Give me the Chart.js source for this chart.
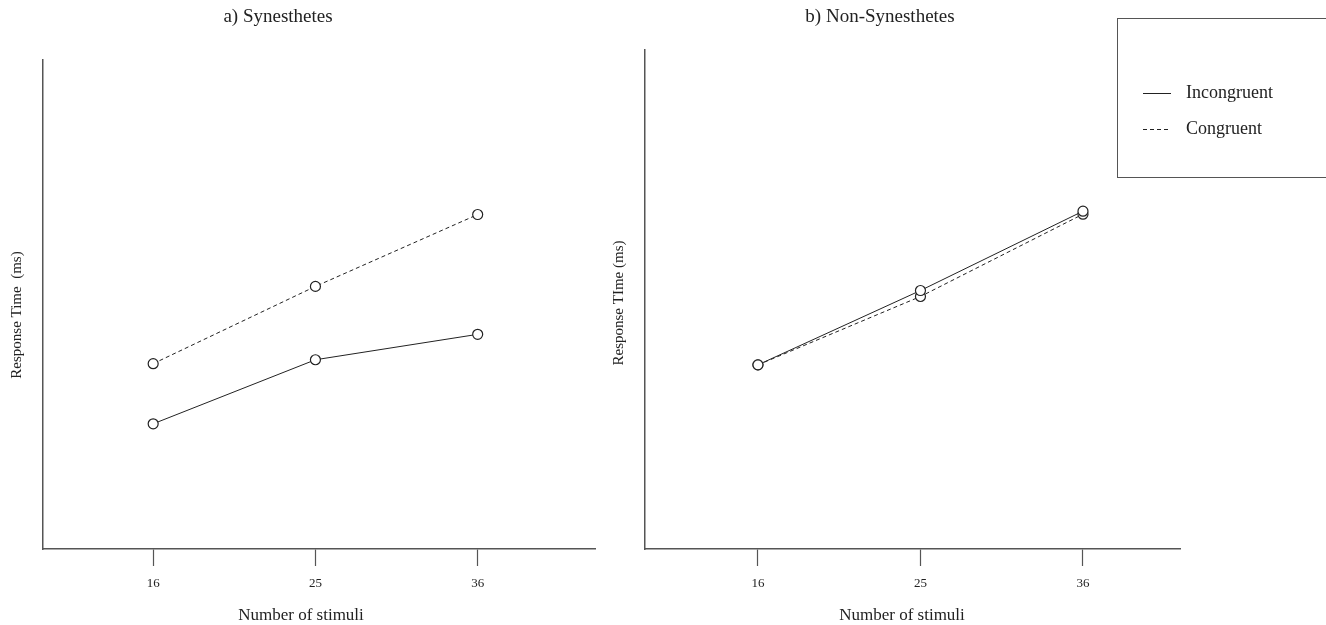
<!DOCTYPE html>
<html>
<head>
<meta charset="utf-8">
<script src="https://cdn.jsdelivr.net/npm/chart.js@4.4.1/dist/chart.umd.min.js"></script>
<style>
  body { margin: 0; background: #fff; }
  .panel { position: absolute; top: 0; height: 625px; }
  #left { left: 0; width: 602px; }
  #right { left: 602px; width: 724px; }
</style>
</head>
<body>
<div class="panel" id="left"><canvas id="synChart"></canvas></div>
<div class="panel" id="right"><canvas id="nonChart"></canvas></div>
<script>
// data (y in relative units, 0 = x axis, 100 = top of y axis)
const stimuli = ['16', '25', '36'];
const tickPos = [1, 2, 3];
const synIncongruent = [25.6, 38.7, 43.9];
const synCongruent = [37.9, 53.7, 68.4];
const nonIncongruent = [36.9, 51.8, 67.7];
const nonCongruent = [36.9, 50.6, 67.1];
const seriesNames = ['Incongruent', 'Congruent'];

const serif = 'Liberation Serif';
const ink = '#222';
const axisInk = '#555';

// panel title and axis titles drawn at fixed spots
const panelText = {
  id: 'panelText',
  afterDraw(chart, args, opts) {
    const ctx = chart.ctx;
    ctx.save();
    ctx.fillStyle = ink;
    ctx.textAlign = 'center';
    ctx.textBaseline = 'middle';
    ctx.font = '19px "' + serif + '"';
    ctx.fillText(opts.title, opts.titleX, 17);
    ctx.font = '17px "' + serif + '"';
    ctx.fillText('Number of stimuli', opts.xTitleX, 616);
    ctx.translate(17, opts.yTitleY);
    ctx.rotate(-Math.PI / 2);
    ctx.font = '15px "' + serif + '"';
    ctx.fillText(opts.yTitle, 0, 0);
    ctx.restore();
  }
};

// boxed legend in the top right corner
const boxLegend = {
  id: 'boxLegend',
  afterDraw(chart, args, opts) {
    if (!opts.show) return;
    const ctx = chart.ctx;
    ctx.save();
    ctx.strokeStyle = axisInk;
    ctx.lineWidth = 1;
    ctx.strokeRect(opts.x + 0.5, opts.y + 0.5, opts.w, opts.h);
    chart.data.datasets.forEach((ds, i) => {
      const yy = opts.y + 75 + i * 36;
      ctx.strokeStyle = ink;
      ctx.setLineDash(ds.borderDash || []);
      ctx.beginPath();
      ctx.moveTo(opts.x + 26, yy + 0.5);
      ctx.lineTo(opts.x + 54, yy + 0.5);
      ctx.stroke();
      ctx.setLineDash([]);
      ctx.fillStyle = ink;
      ctx.font = '18px "' + serif + '"';
      ctx.textBaseline = 'middle';
      ctx.fillText(ds.label, opts.x + 69, yy);
    });
    ctx.restore();
  }
};

function line(label, values, dash) {
  return {
    label: label,
    data: values.map((v, i) => ({ x: tickPos[i], y: v })),
    borderColor: ink,
    borderWidth: 1,
    borderDash: dash,
    pointRadius: 5,
    pointBackgroundColor: '#fff',
    pointBorderColor: ink,
    pointBorderWidth: 1.2,
    tension: 0
  };
}

function makeChart(id, inc, con, cfg) {
  new Chart(document.getElementById(id), {
    type: 'line',
    data: {
      datasets: [line(seriesNames[0], inc, []), line(seriesNames[1], con, [4, 3])]
    },
    plugins: [panelText, boxLegend],
    options: {
      responsive: true,
      maintainAspectRatio: false,
      animation: false,
      layout: { padding: { top: cfg.top, right: cfg.right, left: 0, bottom: 0 } },
      plugins: {
        legend: { display: false },
        tooltip: { enabled: false },
        panelText: { title: cfg.title, titleX: 278, xTitleX: cfg.xTitleX, yTitle: cfg.ytitle, yTitleY: cfg.yTitleY },
        boxLegend: cfg.legend
      },
      scales: {
        x: {
          type: 'linear',
          min: cfg.xmin,
          max: cfg.xmax,
          afterBuildTicks: s => { s.ticks = tickPos.map(v => ({ value: v })); },
          afterFit: s => { s.height = 76; },
          grid: { display: true, drawOnChartArea: false, drawTicks: true, tickLength: 17, tickColor: axisInk, tickWidth: 1.2 },
          border: { display: true, color: axisInk, width: 1.5 },
          ticks: {
            padding: 10,
            color: ink,
            font: { family: serif, size: 13 },
            callback: (v, i) => stimuli[i]
          }
        },
        y: {
          min: 0,
          max: 100,
          afterFit: s => { s.width = 43; },
          grid: { display: false },
          border: { display: true, color: axisInk, width: 1.5 },
          ticks: { display: false }
        }
      }
    }
  });
}

makeChart('synChart', synIncongruent, synCongruent, {
  title: 'a) Synesthetes', top: 60, right: 2,
  xmin: 0.321, xmax: 3.728, xTitleX: 301, yTitleY: 315,
  ytitle: 'Response Time  (ms)',
  legend: { show: false }
});

makeChart('nonChart', nonIncongruent, nonCongruent, {
  title: 'b) Non-Synesthetes', top: 50, right: 146,
  xmin: 0.305, xmax: 3.597, xTitleX: 300, yTitleY: 303,
  ytitle: 'Response TIme (ms)',
  legend: { show: true, x: 515, y: 18, w: 215, h: 159 }
});
</script>
</body>
</html>
